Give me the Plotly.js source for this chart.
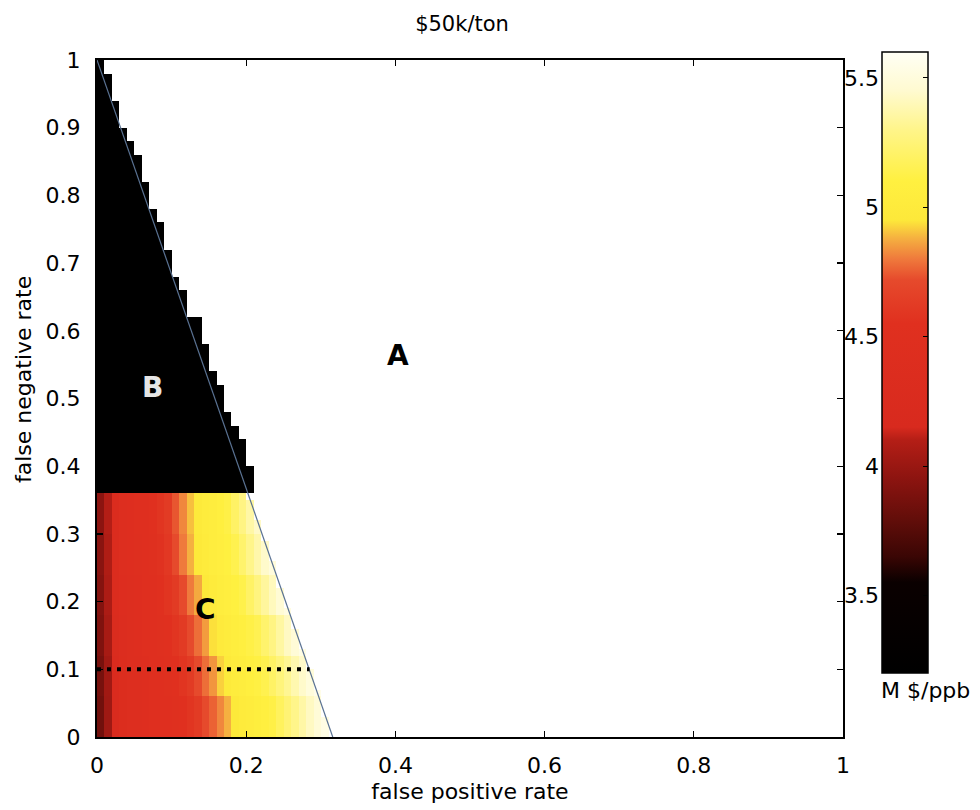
<!DOCTYPE html>
<html><head><meta charset="utf-8">
<script src="https://cdn.plot.ly/plotly-3.0.1.min.js"></script>
<style>html,body{margin:0;padding:0;background:#fff}</style>
</head><body><div id="chart" style="width:980px;height:810px"></div>
<script>
// ---------- data ----------
const chartTitle = '$50k/ton';
const xTitle = 'false positive rate';
const yTitle = 'false negative rate';
const unitLabel = 'M $/ppb';
const xTickVals = [0, 0.2, 0.4, 0.6, 0.8, 1];
const yTickVals = [0, 0.1, 0.2, 0.3, 0.4, 0.5, 0.6, 0.7, 0.8, 0.9, 1];
const cbarTickVals = [3.5, 4, 4.5, 5, 5.5];
const zMin = 3.2, zMax = 5.6;

// feasibility boundary
const boundaryX = [0, 0.316];
const boundaryY = [1, 0];
// dotted threshold line at fnr = 0.1
const thresholdX = [0, 0.285];
const thresholdY = [0.1, 0.1];

// grid of the map
const cellSize = 0.01;
const nCols = 32;
const nRows = 100;
const cTop = 0.36;           // region C below this fnr, region B above

// region C: cost (M $/ppb) per fpr column (0.005 ... 0.315), per fnr band (bottom to top)
const cBandTops = [0.06, 0.12, 0.18, 0.24, 0.30, 0.36];
const cBand1 = [3.85,4.02,4.25,4.35,4.4,4.42,4.45,4.48,4.5,4.5,4.52,4.55,4.58,4.62,4.72,4.76,4.82,4.88,4.96,5.0,5.03,5.06,5.09,5.12,5.18,5.24,5.3,5.36,5.42,5.48,5.53,5.57];
const cBand2 = [3.87,4.03,4.25,4.35,4.4,4.42,4.45,4.48,4.5,4.52,4.55,4.58,4.62,4.72,4.78,4.84,4.92,4.98,5.02,5.05,5.08,5.11,5.14,5.2,5.26,5.32,5.38,5.44,5.5,5.55,5.58,5.6];
const cBand3 = [3.9,4.05,4.27,4.37,4.42,4.45,4.48,4.5,4.52,4.55,4.58,4.62,4.72,4.78,4.85,4.94,4.99,5.03,5.06,5.09,5.12,5.15,5.22,5.28,5.35,5.42,5.48,5.53,5.57,5.6,5.6,5.6];
const cBand4 = [3.92,4.07,4.28,4.38,4.42,4.45,4.48,4.5,4.55,4.58,4.62,4.72,4.8,4.87,4.96,5.0,5.04,5.07,5.1,5.13,5.2,5.27,5.34,5.41,5.47,5.52,5.56,5.6,5.6,5.6,5.6,5.6];
const cBand5 = [3.94,4.08,4.3,4.4,4.44,4.47,4.5,4.52,4.56,4.6,4.72,4.8,4.88,4.96,5.0,5.04,5.07,5.1,5.14,5.22,5.3,5.37,5.44,5.5,5.55,5.58,5.6,5.6,5.6,5.6,5.6,5.6];
const cBand6 = [3.95,4.1,4.3,4.4,4.45,4.48,4.5,4.54,4.58,4.62,4.74,4.82,4.9,4.98,5.02,5.05,5.08,5.12,5.2,5.28,5.36,5.43,5.5,5.55,5.58,5.6,5.6,5.6,5.6,5.6,5.6,5.6];
const cBands = [cBand1, cBand2, cBand3, cBand4, cBand5, cBand6];

// region B: value and right edge (fpr) per 0.02-high fnr row from 0.36 up
const bValue = 3.2;
const bEdge = [0.21,0.21,0.20,0.20,0.19,0.18,0.17,0.17,0.16,0.15,0.15,0.14,0.14,0.12,0.12,0.11,0.10,0.10,0.09,0.09,0.08,0.07,0.07,0.06,0.06,0.05,0.04,0.03,0.03,0.02,0.02,0.01];

const regionText = ['A', 'B', 'C'];
const regionX = [0.403, 0.074, 0.145];
const regionY = [0.564, 0.516, 0.189];
const regionColor = ['#000000', '#e6e6e6', '#000000'];

// ---------- build grid ----------
const xCenters = [], yCenters = [];
for (let i = 0; i < nCols; i++) xCenters.push(+(cellSize * (i + 0.5)).toFixed(4));
for (let j = 0; j < nRows; j++) yCenters.push(+(cellSize * (j + 0.5)).toFixed(4));
function lineX(y) {
  return boundaryX[0] + (boundaryX[1] - boundaryX[0]) * (boundaryY[0] - y) / (boundaryY[0] - boundaryY[1]);
}
const z = yCenters.map(yc => {
  if (yc < cTop) {
    let b = 0; while (yc > cBandTops[b]) b++;
    const row = cBands[b];
    return xCenters.map((xc, i) => xc < lineX(yc) ? row[i] : null);
  } else {
    const k = Math.min(bEdge.length - 1, Math.floor((yc - cTop) / 0.02));
    return xCenters.map(xc => xc < bEdge[k] ? bValue : null);
  }
});

const hotScale = [
  [0, '#000000'], [0.146, '#0a0000'], [0.1875, '#3a0604'], [0.25, '#640e0a'],
  [0.3125, '#8c1410'], [0.375, '#b41e16'], [0.396, '#d82a1e'], [0.5625, '#e0301f'],
  [0.633, '#e64a2c'], [0.667, '#ef7a3c'], [0.7, '#f5b040'], [0.729, '#fde83a'],
  [0.792, '#fff040'], [0.875, '#fff58a'], [0.9375, '#fffad0'], [1, '#fffff5']
];

const FONT = 'DejaVu Sans, Liberation Sans, Arial, sans-serif';
const W = 980, H = 810;
const L = 97, R = 40, T = 45, B = 73;
const pw = W - L - R, ph = H - T - B;
const plotRightPx = 843, plotTopPx = 60, plotBottomPx = 737;
const cbLeftPx = 882, cbRightPx = 928, cbTopPx = 52, cbBottomPx = 673;

const traces = [
  {
    type: 'heatmap', x: xCenters, y: yCenters, z: z,
    zmin: zMin, zmax: zMax, colorscale: hotScale, zsmooth: false,
    hoverinfo: 'skip',
    colorbar: {
      x: (cbLeftPx - L) / pw, xanchor: 'left', xpad: 0,
      y: (plotBottomPx - cbBottomPx) / ph, yanchor: 'bottom', ypad: 0,
      len: (cbBottomPx - cbTopPx) / ph, lenmode: 'fraction',
      thickness: cbRightPx - cbLeftPx, thicknessmode: 'pixels',
      outlinewidth: 1.5, outlinecolor: '#000',
      tickmode: 'array', tickvals: cbarTickVals, ticks: 'inside', ticklen: 5,
      tickcolor: '#000', showticklabels: false
    }
  },
  { type: 'scatter', mode: 'lines', x: boundaryX, y: boundaryY,
    line: { color: '#5a7292', width: 1.2 }, hoverinfo: 'skip', showlegend: false },
  { type: 'scatter', mode: 'lines', x: thresholdX, y: thresholdY,
    line: { color: '#000', width: 4, dash: '4px,6px' }, hoverinfo: 'skip', showlegend: false },
  { type: 'scatter', mode: 'markers', x: [], y: [], xaxis: 'x2', yaxis: 'y2',
    hoverinfo: 'skip', showlegend: false }
];

const axisCommon = {
  showline: true, linewidth: 2, linecolor: '#000', mirror: 'ticks',
  ticks: 'inside', ticklen: 6, tickwidth: 1.3, tickcolor: '#000',
  showgrid: false, zeroline: false, automargin: false, fixedrange: true,
  tickfont: { family: FONT, size: 22, color: '#000' }
};

const layout = {
  width: W, height: H,
  margin: { l: L, r: R, t: T, b: B },
  paper_bgcolor: '#fff', plot_bgcolor: '#fff',
  showlegend: false,
  title: { text: chartTitle, x: (462 - L) / pw, xref: 'paper', xanchor: 'center',
           y: 1 - 24 / H, yref: 'container', yanchor: 'middle',
           font: { family: FONT, size: 21, color: '#000' } },
  xaxis: Object.assign({}, axisCommon, {
    domain: [0, (plotRightPx - L) / pw], range: [0, 1],
    tickmode: 'array', tickvals: xTickVals, ticklabelstandoff: 8,
    title: { text: xTitle, standoff: 6, font: { family: FONT, size: 22, color: '#000' } }
  }),
  yaxis: Object.assign({}, axisCommon, {
    domain: [0, (plotBottomPx - plotTopPx) / ph], range: [0, 1],
    tickmode: 'array', tickvals: yTickVals, ticklabelstandoff: 10
  }),
  xaxis2: { domain: [(cbLeftPx - L) / pw, (cbRightPx - L) / pw], range: [0, 1],
            anchor: 'y2', visible: false, fixedrange: true },
  yaxis2: { domain: [(plotBottomPx - cbBottomPx) / ph, (plotBottomPx - cbTopPx) / ph],
            range: [zMin, zMax], anchor: 'x2', side: 'left',
            tickmode: 'array', tickvals: cbarTickVals, ticks: 'inside', ticklen: 5,
            tickcolor: '#000', showline: false, showgrid: false, zeroline: false,
            automargin: false, fixedrange: true, ticklabelstandoff: 2,
            tickfont: { family: FONT, size: 22, color: '#000' } },
  annotations: regionText.map((t, i) => ({
    text: '<b>' + t + '</b>', x: regionX[i], y: regionY[i], xref: 'x', yref: 'y',
    xanchor: 'center', yanchor: 'middle',
    showarrow: false, font: { family: FONT, size: 28, color: regionColor[i] }
  })).concat([
    { text: yTitle, textangle: -90, xref: 'paper', yref: 'paper',
      xanchor: 'center', yanchor: 'middle',
      x: (23 - L) / pw, y: (plotBottomPx - 380) / ph, showarrow: false,
      font: { family: FONT, size: 22, color: '#000' } },
    { text: unitLabel, xref: 'paper', yref: 'paper',
      xanchor: 'center', yanchor: 'middle',
      x: (925 - L) / pw, y: (plotBottomPx - 690) / ph, showarrow: false,
      font: { family: FONT, size: 22, color: '#000' } }
  ])
};

Plotly.newPlot('chart', traces, layout, { displayModeBar: false, staticPlot: true });
</script>
</body></html>
